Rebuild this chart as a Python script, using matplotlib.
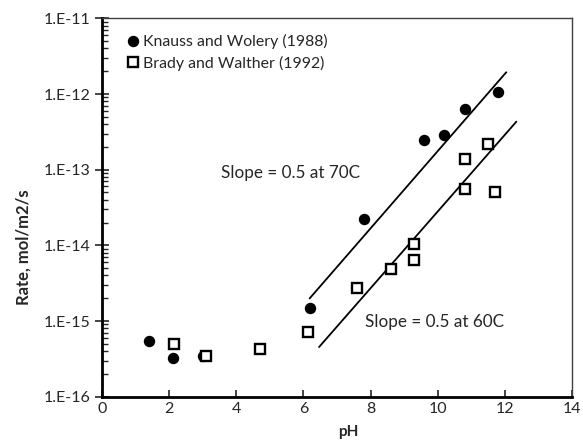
import matplotlib
matplotlib.use("Agg")
import matplotlib.pyplot as plt
from matplotlib.ticker import FixedLocator, FixedFormatter, LogLocator, NullFormatter

plt.rcParams['font.family'] = ['Lato', 'DejaVu Sans']

# Data
kw_ph = [1.4, 2.1, 3.0, 6.2, 7.8, 9.6, 10.2, 10.8, 11.8]
kw_rate = [5.5e-16, 3.2e-16, 3.4e-16, 1.5e-15, 2.2e-14, 2.5e-13, 2.9e-13, 6.4e-13, 1.05e-12]
bw_ph = [2.15, 3.1, 4.7, 6.15, 7.6, 8.6, 9.3, 9.3, 10.8, 10.8, 11.5, 11.7]
bw_rate = [5.0e-16, 3.4e-16, 4.25e-16, 7.2e-16, 2.7e-15, 4.8e-15, 1.03e-14, 6.5e-15,
           5.6e-14, 1.38e-13, 2.2e-13, 5.1e-14]
line70_ph = [6.19, 12.04]
line70_rate = [2.0e-15, 1.93e-12]
line60_ph = [6.47, 12.34]
line60_rate = [4.55e-16, 4.29e-13]
y_ticks = [1e-16, 1e-15, 1e-14, 1e-13, 1e-12, 1e-11]
y_tick_labels = ["1.E-16", "1.E-15", "1.E-14", "1.E-13", "1.E-12", "1.E-11"]
x_ticks = [0, 2, 4, 6, 8, 10, 12, 14]

txt = '#262626'
fig = plt.figure(figsize=(5.83, 4.42), dpi=100)
ax = fig.add_axes([0.175, 0.1025, 0.806, 0.856])

ax.plot(line70_ph, line70_rate, color='black', lw=1.3)
ax.plot(line60_ph, line60_rate, color='black', lw=1.3)
ax.plot(kw_ph, kw_rate, 'o', color='black', ms=7.2, ls='none', label='Knauss and Wolery (1988)')
ax.plot(bw_ph, bw_rate, 's', mfc='white', mec='black', mew=1.7, ms=6.6, ls='none',
        label='Brady and Walther (1992)')

ax.set_yscale('log')
ax.set_xlim(0, 14)
ax.set_ylim(1e-16, 1e-11)
ax.xaxis.set_major_locator(FixedLocator(x_ticks))
ax.yaxis.set_major_locator(FixedLocator(y_ticks))
ax.yaxis.set_major_formatter(FixedFormatter(y_tick_labels))
ax.yaxis.set_minor_locator(LogLocator(base=10, subs=range(2, 10), numticks=20))
ax.yaxis.set_minor_formatter(NullFormatter())

ax.tick_params(axis='x', direction='in', length=5, width=1.2, labelsize=11.5, colors=txt, pad=4)
ax.tick_params(axis='y', which='major', direction='inout', length=10, width=1.2, labelsize=11.5,
               colors=txt, pad=3)
ax.tick_params(axis='y', which='minor', direction='in', length=4, width=1.0, colors=txt)

for s in ['left', 'bottom']:
    ax.spines[s].set_linewidth(2.0)
    ax.spines[s].set_color('black')
for s in ['top', 'right']:
    ax.spines[s].set_linewidth(1.0)
    ax.spines[s].set_color('#404040')

ax.set_xlabel('pH', fontsize=11, fontweight='bold', color=txt)
ax.xaxis.set_label_coords(0.5 + 11.5 / 470, -0.076)
ax.set_ylabel('Rate, mol/m2/s', fontsize=12, fontweight='bold', color=txt)
ax.yaxis.set_label_coords(-0.15, 0.395)

leg = ax.legend(loc='upper left', bbox_to_anchor=(0.036, 0.975), frameon=False, fontsize=11.4,
                handletextpad=0.15, handlelength=1.0, labelspacing=0.42, borderaxespad=0)
for t in leg.get_texts():
    t.set_color(txt)

H = 442
fig.text(221 / 583, 1 - 173 / H, 'Slope = 0.5 at 70C', fontsize=12.3, color=txt, va='center', ha='left')
fig.text(365 / 583, 1 - 322 / H, 'Slope = 0.5 at 60C', fontsize=12.3, color=txt, va='center', ha='left')

fig.savefig('out.png', dpi=100)
